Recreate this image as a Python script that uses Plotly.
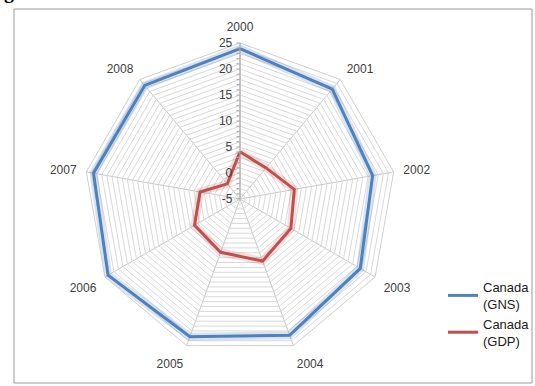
import plotly.graph_objects as go

years = ["2000", "2001", "2002", "2003", "2004", "2005", "2006", "2007", "2008"]
gns = [23.9, 22.6, 20.9, 21.7, 22.9, 23.2, 24.3, 23.6, 23.5]
gdp = [4.1, 2.8, 5.6, 6.3, 7.7, 5.9, 5.1, 2.8, -1.2]
radial_ticks = list(range(-5, 26))
radial_labels = [str(v) if v % 5 == 0 else "" for v in radial_ticks]

W, H = 535, 386
cx, cy, R = 240, 199, 156

BLUE = "#4F81BD"
RED = "#C0504D"

def closed(a):
    return list(a) + [a[0]]

fig = go.Figure()
# soft glow under lines (Excel-style)
fig.add_trace(go.Scatterpolar(r=closed(gns), theta=closed(years), mode="lines",
                              line=dict(color="rgba(79,129,189,0.22)", width=8),
                              showlegend=False, hoverinfo="skip"))
fig.add_trace(go.Scatterpolar(r=closed(gdp), theta=closed(years), mode="lines",
                              line=dict(color="rgba(192,80,77,0.18)", width=8),
                              showlegend=False, hoverinfo="skip"))
fig.add_trace(go.Scatterpolar(r=closed(gns), theta=closed(years), mode="lines",
                              name="Canada<br>(GNS)", line=dict(color=BLUE, width=3)))
fig.add_trace(go.Scatterpolar(r=closed(gdp), theta=closed(years), mode="lines",
                              name="Canada<br>(GDP)", line=dict(color=RED, width=3)))

fig.update_layout(
    width=W, height=H,
    margin=dict(l=0, r=0, t=0, b=0),
    paper_bgcolor="white",
    font=dict(family="Liberation Sans, Arial, sans-serif", size=12, color="#404040"),
    polar=dict(
        domain=dict(x=[(cx - R) / W, (cx + R) / W], y=[(H - cy - R) / H, (H - cy + R) / H]),
        gridshape="linear",
        bgcolor="white",
        radialaxis=dict(range=[-5, 25], tickvals=radial_ticks, ticktext=radial_labels,
                        angle=90, tickangle=90, side="counterclockwise",
                        showline=True, linecolor="#a6a6a6", linewidth=1,
                        gridcolor="#d9d9d9", gridwidth=0.6,
                        ticks="outside", ticklen=3, tickcolor="#a6a6a6",
                        tickfont=dict(size=12, color="#404040")),
        angularaxis=dict(rotation=90, direction="clockwise", type="category",
                         categoryarray=years,
                         showline=True, linecolor="#d0d0d0", linewidth=1,
                         gridcolor="#c8c8c8", gridwidth=0.8,
                         ticks="outside", ticklen=7, tickcolor="rgba(0,0,0,0)",
                         tickfont=dict(size=12, color="#404040")),
    ),
    legend=dict(x=443 / W, y=1 - 272 / H, xanchor="left", yanchor="top",
                bgcolor="rgba(0,0,0,0)", font=dict(size=13, color="#1a1a1a"),
                tracegroupgap=0, itemwidth=30),
    shapes=[dict(type="rect", xref="paper", yref="paper",
                 x0=14 / W, x1=532 / W, y0=1 - 383 / H, y1=1 - 9 / H,
                 line=dict(color="#9a9a9a", width=1))],
    annotations=[dict(text="<b>g</b>", xref="paper", yref="paper", x=2 / W, y=1 + 8 / H,
                      xanchor="left", yanchor="middle", showarrow=False,
                      font=dict(family="Liberation Serif", size=20, color="black"))],
)

fig.write_html("out.html")
